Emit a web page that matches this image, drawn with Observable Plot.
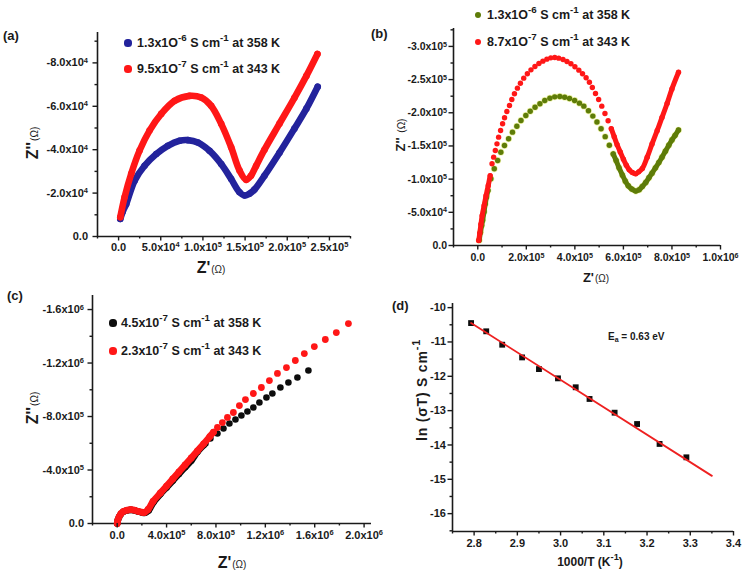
<!DOCTYPE html>
<html><head><meta charset="utf-8">
<script src="https://cdn.jsdelivr.net/npm/d3@7"></script>
<script src="https://cdn.jsdelivr.net/npm/@observablehq/plot@0.6"></script>
<style>
body{margin:0;background:#fff;}
#wrap{position:relative;width:743px;height:573px;overflow:hidden;font-family:"Liberation Sans",Arial,Helvetica,sans-serif;font-weight:bold;color:#1a1a1a;}
.panel{position:absolute;}
.panel svg{overflow:visible;display:block;max-width:none;}
.t{position:absolute;white-space:nowrap;line-height:1;}
.t sup{font-size:0.78em;vertical-align:0;position:relative;top:-0.6em;}
.t sub{font-size:0.7em;vertical-align:0;position:relative;top:0.35em;}
.om{font-size:10px;font-weight:normal;margin-left:1px;}
.ld{position:absolute;border-radius:50%;}
</style></head>
<body><div id="wrap"></div>
<script>
// ---------------- DATA ----------------
// (a) Z' vs -Z'' (ohm)
const aBlue = [[2.0e3,8.1e3],[5.0e3,1.15e4],[9.1e3,1.50e4],[1.90e4,2.57e4],[3.08e4,3.26e4],[4.47e4,3.80e4],[5.84e4,4.18e4],[7.23e4,4.41e4],[8.21e4,4.44e4],[9.40e4,4.33e4],[1.078e5,3.95e4],[1.217e5,3.34e4],[1.335e5,2.65e4],[1.434e5,2.04e4],[1.493e5,1.89e4],[1.552e5,1.97e4],[1.611e5,2.16e4],[1.730e5,2.80e4],[1.908e5,3.86e4],[2.085e5,4.97e4],[2.227e5,5.89e4],[2.361e5,6.90e4]];
const aRed = [[2.0e3,8.9e3],[7.1e3,1.81e4],[1.50e4,2.89e4],[2.49e4,3.96e4],[3.67e4,4.88e4],[5.06e4,5.65e4],[6.64e4,6.25e4],[8.41e4,6.48e4],[9.80e4,6.40e4],[1.098e5,6.02e4],[1.217e5,5.19e4],[1.335e5,4.11e4],[1.434e5,3.04e4],[1.513e5,2.61e4],[1.570e5,2.80e4],[1.630e5,3.25e4],[1.730e5,4.00e4],[1.908e5,5.20e4],[2.085e5,6.39e4],[2.227e5,7.40e4],[2.358e5,8.41e4]];
const aXTicks = [0,5e4,1e5,1.5e5,2e5,2.5e5];
const aXLabels = ["0.0","5.0x10⁴","1.0x10⁵","1.5x10⁵","2.0x10⁵","2.5x10⁵"];
const aXMinor = [-2.5e4,2.5e4,7.5e4,1.25e5,1.75e5,2.25e5,2.75e5];
const aYTicks = [0,2e4,4e4,6e4,8e4];
const aYLabels = ["0.0","-2.0x10⁴","-4.0x10⁴","-6.0x10⁴","-8.0x10⁴"];
const aYMinor = [1e4,3e4,5e4,7e4,9e4];
const aLegend = ["1.3x1O<sup>-6</sup> S cm<sup>-1</sup> at 358 K","9.5x1O<sup>-7</sup> S cm<sup>-1</sup> at 343 K"];

// (b)
const bOlive = [[0.6e4,0.8e4],[1.1e4,2.0e4],[1.6e4,3.0e4],[2.0e4,3.8e4],[2.6e4,5.1e4],[3.1e4,6.3e4],[3.6e4,7.3e4],[4.2e4,8.3e4],
 [5.4e4,1.005e5],[6.8e4,1.156e5],[8.2e4,1.281e5],[9.5e4,1.406e5],[1.10e5,1.507e5],[1.27e5,1.608e5],[1.43e5,1.708e5],[1.61e5,1.798e5],[1.78e5,1.884e5],[1.98e5,1.959e5],[2.16e5,2.024e5],[2.36e5,2.084e5],[2.56e5,2.135e5],[2.76e5,2.185e5],[2.97e5,2.220e5],[3.17e5,2.240e5],[3.38e5,2.245e5],[3.58e5,2.235e5],[3.78e5,2.215e5],[3.99e5,2.185e5],[4.19e5,2.145e5],[4.37e5,2.100e5],[4.56e5,2.03e5],[4.74e5,1.95e5],[4.91e5,1.86e5],[5.08e5,1.76e5],[5.25e5,1.64e5],[5.42e5,1.51e5],[5.58e5,1.38e5],
 [5.70e5,1.28e5],[5.82e5,1.17e5],[5.96e5,1.06e5],[6.08e5,0.97e5],[6.20e5,0.90e5],[6.35e5,0.85e5],[6.51e5,0.82e5],[6.65e5,0.84e5],[6.78e5,0.89e5],[6.92e5,0.95e5],[7.05e5,1.02e5],[7.18e5,1.09e5],[7.32e5,1.17e5],[7.46e5,1.25e5],[7.59e5,1.33e5],[7.73e5,1.42e5],[7.87e5,1.51e5],[8.00e5,1.59e5],[8.13e5,1.66e5],[8.27e5,1.74e5]];
const bRed = [[0.4e4,0.75e4],[0.8e4,1.8e4],[1.3e4,3.2e4],[1.8e4,4.5e4],[2.6e4,6.0e4],[3.4e4,7.5e4],[4.3e4,9.0e4],[5.1e4,1.05e5],
 [5.87e4,1.231e5],[6.54e4,1.331e5],[7.23e4,1.432e5],[7.91e4,1.532e5],[8.58e4,1.633e5],[9.40e4,1.733e5],[1.022e5,1.834e5],[1.103e5,1.924e5],[1.199e5,2.019e5],[1.307e5,2.110e5],[1.403e5,2.200e5],[1.511e5,2.286e5],[1.634e5,2.371e5],[1.756e5,2.446e5],[1.893e5,2.522e5],[2.042e5,2.587e5],[2.192e5,2.647e5],[2.355e5,2.698e5],[2.519e5,2.743e5],[2.682e5,2.778e5],[2.845e5,2.808e5],[3.008e5,2.828e5],[3.172e5,2.833e5],[3.335e5,2.823e5],[3.512e5,2.803e5],[3.675e5,2.773e5],[3.838e5,2.738e5],[4.002e5,2.693e5],[4.165e5,2.642e5],[4.315e5,2.587e5],[4.464e5,2.527e5],[4.60e5,2.46e5],[4.72e5,2.38e5],[4.85e5,2.29e5],[4.98e5,2.20e5],[5.11e5,2.10e5],[5.24e5,1.99e5],[5.37e5,1.88e5],[5.50e5,1.76e5],
 [5.62e5,1.64e5],[5.74e5,1.52e5],[5.87e5,1.41e5],[6.00e5,1.30e5],[6.12e5,1.21e5],[6.24e5,1.14e5],[6.37e5,1.10e5],[6.51e5,1.08e5],[6.63e5,1.11e5],[6.78e5,1.16e5],[6.98e5,1.33e5],[7.18e5,1.53e5],[7.39e5,1.73e5],[7.59e5,1.93e5],[7.80e5,2.14e5],[8.00e5,2.36e5],[8.27e5,2.61e5]];
const bXTicks = [0,2e5,4e5,6e5,8e5,1e6];
const bXLabels = ["0.0","2.0x10⁵","4.0x10⁵","6.0x10⁵","8.0x10⁵","1.0x10⁶"];
const bXMinor = [-1e5,1e5,3e5,5e5,7e5,9e5];
const bYTicks = [0,5e4,1e5,1.5e5,2e5,2.5e5,3e5];
const bYLabels = ["0.0","-5.0x10⁴","-1.0x10⁵","-1.5x10⁵","-2.0x10⁵","-2.5x10⁵","-3.0x10⁵"];
const bYMinor = [2.5e4,7.5e4,1.25e5,1.75e5,2.25e5,2.75e5,3.25e5];
const bLegend = ["1.3x1O<sup>-6</sup> S cm<sup>-1</sup> at 358 K","8.7x1O<sup>-7</sup> S cm<sup>-1</sup> at 343 K"];

// (c)
const cBlack = [[0,0],[0.5e4,2.3e4],[1.5e4,4.8e4],[3e4,7.1e4],[5e4,8.8e4],[8e4,9.8e4],[1.1e5,1.02e5],[1.4e5,0.98e5],[1.7e5,0.89e5],[2.0e5,0.82e5],[2.25e5,0.80e5],[2.55e5,0.98e5],[2.95e5,1.60e5],[3.5e5,2.20e5],[4.0e5,2.70e5],[4.5e5,3.20e5],[5.0e5,3.70e5],[5.5e5,4.20e5],[6.0e5,4.70e5],[6.5e5,5.35e5],[7.0e5,5.85e5],
 [7.15e5,5.98e5],[7.55e5,6.36e5],[8.12e5,6.73e5],[8.61e5,7.10e5],[9.09e5,7.48e5],[9.58e5,7.78e5],[1.006e6,8.08e5],[1.055e6,8.37e5],[1.103e6,8.67e5],[1.152e6,9.05e5],[1.209e6,9.42e5],[1.257e6,9.72e5],[1.322e6,1.017e6],[1.387e6,1.054e6],[1.460e6,1.092e6],[1.549e6,1.144e6]];
const cRed = [[0,0],[0.5e4,2.5e4],[1.5e4,5.0e4],[3e4,7.3e4],[5e4,9.0e4],[8e4,1.0e5],[1.1e5,1.04e5],[1.4e5,1.0e5],[1.7e5,0.91e5],[2.0e5,0.84e5],[2.2e5,0.83e5],[2.5e5,1.05e5],[2.9e5,1.65e5],[3.5e5,2.28e5],[4.0e5,2.80e5],[4.5e5,3.33e5],[5.0e5,3.86e5],[5.5e5,4.38e5],[6.0e5,4.90e5],[6.5e5,5.43e5],[7.0e5,5.96e5],[7.5e5,6.50e5],[7.8e5,6.83e5],
 [8.12e5,7.18e5],[8.52e5,7.55e5],[8.93e5,7.93e5],[9.41e5,8.30e5],[9.90e5,8.82e5],[1.039e6,9.27e5],[1.103e6,9.72e5],[1.168e6,1.017e6],[1.233e6,1.069e6],[1.298e6,1.122e6],[1.371e6,1.166e6],[1.443e6,1.219e6],[1.516e6,1.271e6],[1.597e6,1.323e6],[1.686e6,1.376e6],[1.775e6,1.428e6],[1.873e6,1.495e6]];
const cXTicks = [0,4e5,8e5,1.2e6,1.6e6,2e6];
const cXLabels = ["0.0","4.0x10⁵","8.0x10⁵","1.2x10⁶","1.6x10⁶","2.0x10⁶"];
const cXMinor = [-2e5,2e5,6e5,1e6,1.4e6,1.8e6];
const cYTicks = [0,4e5,8e5,1.2e6,1.6e6];
const cYLabels = ["0.0","-4.0x10⁵","-8.0x10⁵","-1.2x10⁶","-1.6x10⁶"];
const cYMinor = [2e5,6e5,1e6,1.4e6];
const cLegend = ["4.5x10<sup>-7</sup> S cm<sup>-1</sup> at 358 K","2.3x10<sup>-7</sup> S cm<sup>-1</sup> at 343 K"];

// (d) Arrhenius
const dInvT = [2.793,2.828,2.865,2.911,2.950,2.994,3.035,3.067,3.125,3.177,3.229,3.291];
const dLnSigmaT = [-10.45,-10.69,-11.08,-11.45,-11.79,-12.06,-12.32,-12.66,-13.06,-13.39,-13.97,-14.36];
const dFitX = [2.793,3.35];
const dFitY = [-10.45,-14.90];
const dXTicks = [2.8,2.9,3.0,3.1,3.2,3.3,3.4];
const dXLabels = ["2.8","2.9","3.0","3.1","3.2","3.3","3.4"];
const dXMinor = [2.75,2.85,2.95,3.05,3.15,3.25,3.35];
const dYTicks = [-10,-11,-12,-13,-14,-15,-16];
const dYLabels = ["-10","-11","-12","-13","-14","-15","-16"];
const dYMinor = [-10.5,-11.5,-12.5,-13.5,-14.5,-15.5,-16.5];

// ---------------- DRAW ----------------
const FONT = '"Liberation Sans", Arial, Helvetica, sans-serif';
const wrap = document.getElementById("wrap");
const X = d => d[0], Y = d => d[1];
const SUP = "⁰¹²³⁴⁵⁶⁷⁸⁹";

function labelFmt(ticks, labels) {
  return d => { const i = ticks.findIndex(t => Math.abs(t - d) <= 1e-9 * Math.max(1, Math.abs(t))); return i >= 0 ? labels[i] : ""; };
}

// turn "x10⁴" style exponents into raised tspans
function raiseExponents(svg) {
  svg.querySelectorAll("text").forEach(t => {
    const s = t.textContent;
    const m = s.match(/^(.*x10)([⁰¹²³⁴⁵⁶⁷⁸⁹]+)$/);
    if (!m) return;
    const ns = "http://www.w3.org/2000/svg";
    while (t.firstChild) t.removeChild(t.firstChild);
    t.appendChild(document.createTextNode(m[1]));
    const ts = document.createElementNS(ns, "tspan");
    ts.setAttribute("dy", "-0.45em");
    ts.setAttribute("font-size", "0.68em");
    ts.textContent = [...m[2]].map(ch => SUP.indexOf(ch)).join("");
    t.appendChild(ts);
  });
}

function addPanel(c) {
  const div = document.createElement("div");
  div.className = "panel";
  Object.assign(div.style, {left: c.left + "px", top: c.top + "px", width: c.width + "px", height: c.height + "px"});
  const svg = Plot.plot({
    width: c.width, height: c.height,
    marginTop: c.m[0], marginRight: c.m[1], marginBottom: c.m[2], marginLeft: c.m[3],
    x: {domain: c.xDomain}, y: {domain: c.yDomain},
    style: {fontFamily: FONT, fontWeight: "bold", fontSize: c.fs + "px", color: "#1a1a1a", background: "transparent", overflow: "visible"},
    marks: [
      Plot.ruleX([c.xDomain[0]], {stroke: "currentColor", strokeWidth: 1.6}),
      Plot.ruleY([c.yDomain[0]], {stroke: "currentColor", strokeWidth: 1.6}),
      ...c.marks,
      Plot.axisX(c.xMinor, {tickSize: 2.5, tickFormat: () => "", strokeWidth: 1.4, label: null}),
      Plot.axisX(c.xTicks, {tickSize: 4.5, tickPadding: c.xPad, tickFormat: labelFmt(c.xTicks, c.xLabels), strokeWidth: 1.4, label: null}),
      Plot.axisY(c.yMinor, {tickSize: 2.5, tickFormat: () => "", strokeWidth: 1.4, label: null}),
      Plot.axisY(c.yTicks, {tickSize: 4.5, tickPadding: c.yPad, tickFormat: labelFmt(c.yTicks, c.yLabels), strokeWidth: 1.4, label: null})
    ]
  });
  raiseExponents(svg);
  div.appendChild(svg);
  wrap.appendChild(div);
}

function T(html, x, y, o = {}) {
  const el = document.createElement("div");
  el.className = "t";
  el.innerHTML = html;
  el.style.left = x + "px"; el.style.top = y + "px";
  el.style.fontSize = (o.size || 12) + "px";
  let tr = o.anchor === "middle" ? "translate(-50%,-50%)" : "translate(0,-50%)";
  if (o.rotate) tr = "translate(-50%,-50%) rotate(-90deg)";
  el.style.transform = tr;
  if (o.ls) el.style.letterSpacing = o.ls;
  wrap.appendChild(el);
}
function LD(x, y, r, color) {
  const el = document.createElement("div");
  el.className = "ld";
  Object.assign(el.style, {left: (x - r) + "px", top: (y - r) + "px", width: 2 * r + "px", height: 2 * r + "px", background: color});
  wrap.appendChild(el);
}

const BLUE = "#23239c", RED = "#ff1717", OLIVE = "#5e7c08", BLACK = "#0d0d0d", FIT = "#ee2020";

// Panel (a)
addPanel({
  left: 0, top: 0, width: 370, height: 280, m: [32, 20, 44, 97], fs: 11,
  xDomain: [-2.5e4, 2.75e5], yDomain: [0, 9.4e4],
  xTicks: aXTicks, xLabels: aXLabels, xMinor: aXMinor, xPad: 2,
  yTicks: aYTicks, yLabels: aYLabels, yMinor: aYMinor, yPad: 5,
  marks: [
    Plot.line(aBlue, {x: X, y: Y, stroke: BLUE, strokeWidth: 6.6, curve: "catmull-rom", strokeLinecap: "round"}),
    Plot.dot(aBlue, {x: X, y: Y, r: 3.3, fill: BLUE}),
    Plot.line(aRed, {x: X, y: Y, stroke: RED, strokeWidth: 6.6, curve: "catmull-rom", strokeLinecap: "round"}),
    Plot.dot(aRed, {x: X, y: Y, r: 3.3, fill: RED})
  ]
});
T("(a)", 3, 35, {size: 13});
LD(128, 43, 3.6, BLUE); T(aLegend[0], 137, 43, {size: 12.5});
LD(128, 69, 3.6, RED); T(aLegend[1], 137, 69, {size: 12.5});
T("Z''<span class='om'>(Ω)</span>", 33, 143, {size: 16, rotate: true});
T("Z'<span class='om'>(Ω)</span>", 211, 268, {size: 16, anchor: "middle"});

// Panel (b)
const bLines = (data, color, headEnd, tailStart) => [
  Plot.line(data.filter(d => d[0] <= headEnd), {x: X, y: Y, stroke: color, strokeWidth: 5, curve: "catmull-rom", strokeLinecap: "round"}),
  Plot.line(data.filter(d => d[0] >= tailStart), {x: X, y: Y, stroke: color, strokeWidth: 5, curve: "catmull-rom", strokeLinecap: "round"}),
  Plot.dot(data, {x: X, y: Y, r: 2.7, fill: color})
];
addPanel({
  left: 370, top: 0, width: 373, height: 285, m: [28, 23, 40, 83], fs: 10.5,
  xDomain: [-1e5, 1e6], yDomain: [0, 3.27e5],
  xTicks: bXTicks, xLabels: bXLabels, xMinor: bXMinor, xPad: 4,
  yTicks: bYTicks, yLabels: bYLabels, yMinor: bYMinor, yPad: 2,
  marks: [
    Plot.dot(bOlive, {x: X, y: Y, r: 3.4, fill: "#dfe86a", fillOpacity: 0.6}),
    ...bLines(bOlive, OLIVE, 4.2e4, 5.58e5),
    ...bLines(bRed, RED, 5.1e4, 5.5e5)
  ]
});
T("(b)", 371, 33, {size: 13});
LD(478, 15, 3, OLIVE); T(bLegend[0], 487, 15, {size: 12.5});
LD(478, 42, 3, RED); T(bLegend[1], 487, 42, {size: 12.5});
T("Z'' <span class='om'>(Ω)</span>", 400, 135, {size: 13, rotate: true});
T("Z'<span class='om'>(Ω)</span>", 596, 277, {size: 13, anchor: "middle"});

// Panel (c)
const cDense = (data, lim) => data.filter(d => d[0] <= lim);
addPanel({
  left: 0, top: 280, width: 380, height: 293, m: [15, 9, 50, 92], fs: 11,
  xDomain: [-2e5, 2.06e6], yDomain: [0, 1.705e6],
  xTicks: cXTicks, xLabels: cXLabels, xMinor: cXMinor, xPad: 3,
  yTicks: cYTicks, yLabels: cYLabels, yMinor: cYMinor, yPad: 4,
  marks: [
    Plot.line(cDense(cBlack, 7.0e5), {x: X, y: Y, stroke: BLACK, strokeWidth: 6.6, curve: "catmull-rom", strokeLinecap: "round"}),
    Plot.dot(cBlack, {x: X, y: Y, r: 3.3, fill: BLACK}),
    Plot.line(cDense(cRed, 7.8e5), {x: X, y: Y, stroke: RED, strokeWidth: 6.6, curve: "catmull-rom", strokeLinecap: "round"}),
    Plot.dot(cRed, {x: X, y: Y, r: 3.4, fill: RED})
  ]
});
T("(c)", 7, 295, {size: 13});
LD(113, 323, 3.6, BLACK); T(cLegend[0], 121, 323, {size: 12.5});
LD(113, 351, 3.6, RED); T(cLegend[1], 121, 351, {size: 12.5});
T("Z''<span class='om'>(Ω)</span>", 33, 408, {size: 16, rotate: true});
T("Z'<span class='om'>(Ω)</span>", 232, 563, {size: 16, anchor: "middle"});

// Panel (d)
addPanel({
  left: 370, top: 280, width: 373, height: 293, m: [23, 10, 42, 82], fs: 11,
  xDomain: [2.75, 3.4], yDomain: [-16.52, -9.88],
  xTicks: dXTicks, xLabels: dXLabels, xMinor: dXMinor, xPad: 3,
  yTicks: dYTicks, yLabels: dYLabels, yMinor: dYMinor, yPad: 2,
  marks: [
    Plot.dot(dInvT, {x: dInvT, y: dLnSigmaT, symbol: "square", r: 3.3, fill: BLACK}),
    Plot.line(dFitX, {x: dFitX, y: dFitY, stroke: FIT, strokeWidth: 1.8})
  ]
});
T("(d)", 392, 305, {size: 13});
T("E<sub>a</sub> = 0.63 eV", 608, 337, {size: 10});
T("ln (σT) S cm<sup>-1</sup>", 422, 390, {size: 14, rotate: true, ls: "0.8px"});
T("1000/T (K<sup>-1</sup>)", 590, 562, {size: 12, anchor: "middle"});
</script>
</body></html>
